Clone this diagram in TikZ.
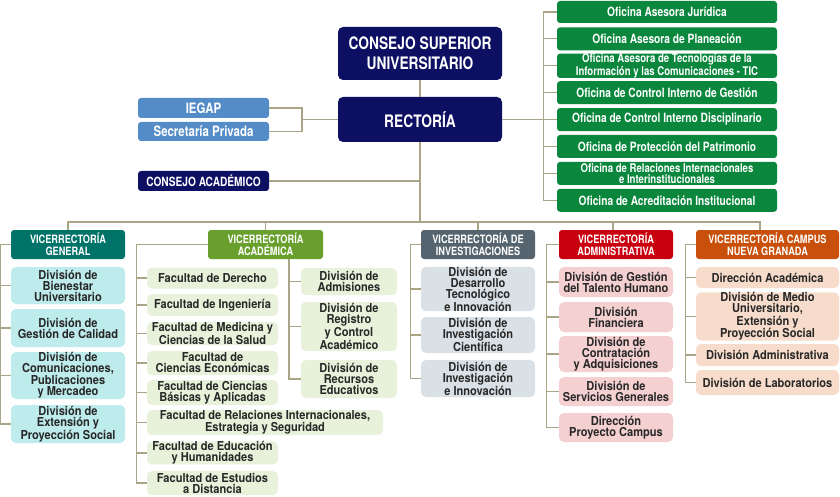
\documentclass[tikz,border=0pt]{standalone}
\usepackage{fontspec}
\setmainfont{TeX Gyre Heros}
\newfontfamily\orgnarrow[FakeStretch=0.8]{TeX Gyre Heros}
\newfontfamily\orgwide[FakeStretch=0.9]{TeX Gyre Heros}
\definecolor{navy}{RGB}{13,15,99}
\definecolor{skyblue}{RGB}{84,140,200}
\definecolor{offgreen}{RGB}{10,135,60}
\definecolor{vgteal}{RGB}{0,115,105}
\definecolor{vagreen}{RGB}{105,160,45}
\definecolor{vislate}{RGB}{85,100,110}
\definecolor{vared}{RGB}{200,0,15}
\definecolor{vcorange}{RGB}{200,80,10}
\definecolor{vgsub}{RGB}{190,235,235}
\definecolor{vasub}{RGB}{232,242,218}
\definecolor{visub}{RGB}{218,225,230}
\definecolor{vadsub}{RGB}{245,208,208}
\definecolor{vcsub}{RGB}{247,220,203}
\definecolor{subtext}{RGB}{40,40,40}
\definecolor{linkc}{RGB}{170,165,135}
\begin{document}
\begin{tikzpicture}[x=1pt,y=-1pt,
  link/.style={draw=linkc, line width=1.1pt},
  dims/.style 2 args={minimum width=#1pt, minimum height=#2pt},
  hbox/.style={rounded corners=3pt, align=center, inner sep=0pt, text=white,
    font=\orgnarrow\bfseries\fontsize{11.5}{12.3}\selectfont},
  topbox/.style={hbox, fill=navy, rounded corners=5pt,
    font=\orgnarrow\bfseries\fontsize{17.2}{19.7}\selectfont},
  sidebox/.style={hbox, font=\orgnarrow\bfseries\fontsize{14.3}{15}\selectfont},
  office/.style={hbox, fill=offgreen,
    font=\orgnarrow\bfseries\fontsize{12.75}{12}\selectfont},
  office2/.style={office, font=\orgnarrow\bfseries\fontsize{12}{11.6}\selectfont},
  subbox/.style={rounded corners=5pt, align=center, inner sep=0pt, text=subtext,
    font=\orgwide\bfseries\fontsize{12.3}{11}\selectfont}]
\useasboundingbox[fill=white] (0,0) rectangle (840,497);

% top of the chart
\node[topbox, dims={164}{53}] (csu) at (420,53.5) {CONSEJO SUPERIOR\\UNIVERSITARIO};
\node[topbox, dims={164}{45}] (rect) at (420,119.5) {RECTORÍA};
\node[sidebox, fill=skyblue, dims={131}{20}] (iegap) at (203.5,108) {IEGAP};
\node[sidebox, fill=skyblue, dims={131}{19}] (secpriv) at (203.5,131.5) {Secretaría Privada};
\node[hbox, fill=navy, dims={131}{20}, font=\orgnarrow\bfseries\fontsize{12.7}{13}\selectfont] (cacad) at (203.5,181) {CONSEJO ACADÉMICO};
\coordinate (lbr) at (302,119.5);
\coordinate (bus) at (420,222);

% offices
\node[office, dims={220}{22}] (of1) at (667,12) {Oficina Asesora Jurídica};
\node[office, dims={220}{23}] (of2) at (667,38.9) {Oficina Asesora de Planeación};
\node[office2, dims={220}{24}] (of3) at (667,65.8) {Oficina Asesora de Tecnologías de la\\Información y las Comunicaciones - TIC};
\node[office, dims={220}{23}] (of4) at (667,92.7) {Oficina de Control Interno de Gestión};
\node[office, dims={220}{23}] (of5) at (667,119.6) {Oficina de Control Interno Disciplinario};
\node[office, dims={220}{23}] (of6) at (667,146.5) {Oficina de Protección del Patrimonio};
\node[office2, dims={220}{23}] (of7) at (667,173.4) {Oficina de Relaciones Internacionales\\e Interinstitucionales};
\node[office, dims={220}{23}] (of8) at (667,200.3) {Oficina de Acreditación Institucional};

% vicerrectorias
\node[hbox, fill=vgteal, dims={114}{29}] (vg) at (68,244.5) {VICERRECTORÍA\\GENERAL};
\node[hbox, fill=vagreen, dims={115}{29}] (va) at (265.5,244.5) {VICERRECTORÍA\\ACADÉMICA};
\node[hbox, fill=vislate, dims={114}{29}] (vi) at (478,244.5) {VICERRECTORÍA DE\\INVESTIGACIONES};
\node[hbox, fill=vared, dims={114}{29}] (vad) at (616,244.5) {VICERRECTORÍA\\ADMINISTRATIVA};
\node[hbox, fill=vcorange, dims={143}{29}] (vc) at (767.5,244.5) {VICERRECTORÍA CAMPUS\\NUEVA GRANADA};

% general
\node[subbox, fill=vgsub, dims={114}{37}] (vg1) at (68,285.5) {División de\\Bienestar\\Universitario};
\node[subbox, fill=vgsub, dims={114}{38}] (vg2) at (68,328) {División de\\Gestión de Calidad};
\node[subbox, fill=vgsub, dims={114}{47}] (vg3) at (68,375.5) {División de\\Comunicaciones,\\Publicaciones\\y Mercadeo};
\node[subbox, fill=vgsub, dims={114}{38}] (vg4) at (68,424) {División de\\Extensión y\\Proyección Social};

% academica
\node[subbox, fill=vasub, dims={131}{21}] (fa1) at (212.5,278) {Facultad de Derecho};
\node[subbox, fill=vasub, dims={131}{22}] (fa2) at (212.5,305) {Facultad de Ingeniería};
\node[subbox, fill=vasub, dims={131}{23}] (fa3) at (212.5,333.5) {Facultad de Medicina y\\Ciencias de la Salud};
\node[subbox, fill=vasub, dims={131}{24}] (fa4) at (212.5,363) {Facultad de\\Ciencias Económicas};
\node[subbox, fill=vasub, dims={131}{25}] (fa5) at (212.5,392.5) {Facultad de Ciencias\\Básicas y Aplicadas};
\node[subbox, fill=vasub, dims={236}{25}] (fa6) at (265,422.5) {Facultad de Relaciones Internacionales,\\Estrategia y Seguridad};
\node[subbox, fill=vasub, dims={131}{22}] (fa7) at (212.5,453) {Facultad de Educación\\y Humanidades};
\node[subbox, fill=vasub, dims={131}{24}] (fa8) at (212.5,483) {Facultad de Estudios\\a Distancia};
\node[subbox, fill=vasub, dims={96}{27}] (da1) at (349,281.5) {División de\\Admisiones};
\node[subbox, fill=vasub, dims={96}{49}] (da2) at (349,326.5) {División de\\Registro\\y Control\\Académico};
\node[subbox, fill=vasub, dims={96}{38}] (da3) at (349,379) {División de\\Recursos\\Educativos};

% investigaciones
\node[subbox, fill=visub, dims={114}{44}] (vi1) at (478,289) {División de\\Desarrollo\\Tecnológico\\e Innovación};
\node[subbox, fill=visub, dims={114}{36}] (vi2) at (478,335) {División de\\Investigación\\Científica};
\node[subbox, fill=visub, dims={114}{37}] (vi3) at (478,378.5) {División de\\Investigación\\e Innovación};

% administrativa
\node[subbox, fill=vadsub, dims={114}{30}] (ad1) at (616,282) {División de Gestión\\del Talento Humano};
\node[subbox, fill=vadsub, dims={114}{30}] (ad2) at (616,317) {División\\Financiera};
\node[subbox, fill=vadsub, dims={114}{36}] (ad3) at (616,354) {División de\\Contratación\\y Adquisiciones};
\node[subbox, fill=vadsub, dims={114}{29}] (ad4) at (616,391.5) {División de\\Servicios Generales};
\node[subbox, fill=vadsub, dims={114}{29}] (ad5) at (616,427.5) {Dirección\\Proyecto Campus};

% campus nueva granada
\node[subbox, fill=vcsub, dims={143}{21}] (cn1) at (767.5,277.5) {Dirección Académica};
\node[subbox, fill=vcsub, dims={143}{47}] (cn2) at (767.5,316.5) {División de Medio\\Universitario,\\Extensión y\\Proyección Social};
\node[subbox, fill=vcsub, dims={143}{22}] (cn3) at (767.5,355) {División Administrativa};
\node[subbox, fill=vcsub, dims={143}{25}] (cn4) at (767.5,382.5) {División de Laboratorios};

% connectors
\draw[link] (csu) -- (rect);
\draw[link] (iegap.east) -| (lbr) |- (secpriv.east);
\draw[link] (rect) -- (lbr);
\draw[link] (cacad.east) -- (cacad.east -| rect.south);
\draw[link] (rect.south) -- (bus);
\draw[link] (vg.north) |- (bus) -| ([xshift=-7.5pt]vc.north);
\draw[link] (va.north) -- (va.north |- bus);
\draw[link] (vi.north) -- (vi.north |- bus);
\draw[link] ([xshift=-3pt]vad.north) -- ([xshift=-3pt]vad.north |- bus);

\draw[link] (rect.east) -- ++(42,0);
\draw[link] (of1.west) -- ++(-13,0) |- (of8.west);
\draw[link] (of2.west) -- ++(-13,0);
\draw[link] (of3.west) -- ++(-13,0);
\draw[link] (of4.west) -- ++(-13,0);
\draw[link] (of5.west) -- ++(-13,0);
\draw[link] (of6.west) -- ++(-13,0);
\draw[link] (of7.west) -- ++(-13,0);

\draw[link] (vg.west) -- ++(-10,0) |- (vg4.west);
\draw[link] (vg1.west) -- ++(-10,0);
\draw[link] (vg2.west) -- ++(-10,0);
\draw[link] (vg3.west) -- ++(-10,0);

\draw[link] (va.west) -- ++(-71,0) |- (fa8.west);
\draw[link] (fa1.west) -- ++(-10,0);
\draw[link] (fa2.west) -- ++(-10,0);
\draw[link] (fa3.west) -- ++(-10,0);
\draw[link] (fa4.west) -- ++(-10,0);
\draw[link] (fa5.west) -- ++(-10,0);
\draw[link] (fa6.west) -- ++(-10,0);
\draw[link] (fa7.west) -- ++(-10,0);
\draw[link] ([xshift=23.5pt]va.south) |- (da3.west);
\draw[link] (da1.west) -- ++(-12,0);
\draw[link] (da2.west) -- ++(-12,0);

\draw[link] (vi.west) -- ++(-10,0) |- (vi3.west);
\draw[link] (vi1.west) -- ++(-10,0);
\draw[link] (vi2.west) -- ++(-10,0);

\draw[link] (vad.west) -- ++(-12,0) |- (ad5.west);
\draw[link] (ad1.west) -- ++(-12,0);
\draw[link] (ad2.west) -- ++(-12,0);
\draw[link] (ad3.west) -- ++(-12,0);
\draw[link] (ad4.west) -- ++(-12,0);

\draw[link] (vc.west) -- ++(-10,0) |- (cn4.west);
\draw[link] (cn1.west) -- ++(-10,0);
\draw[link] (cn2.west) -- ++(-10,0);
\draw[link] (cn3.west) -- ++(-10,0);
\end{tikzpicture}
\end{document}
